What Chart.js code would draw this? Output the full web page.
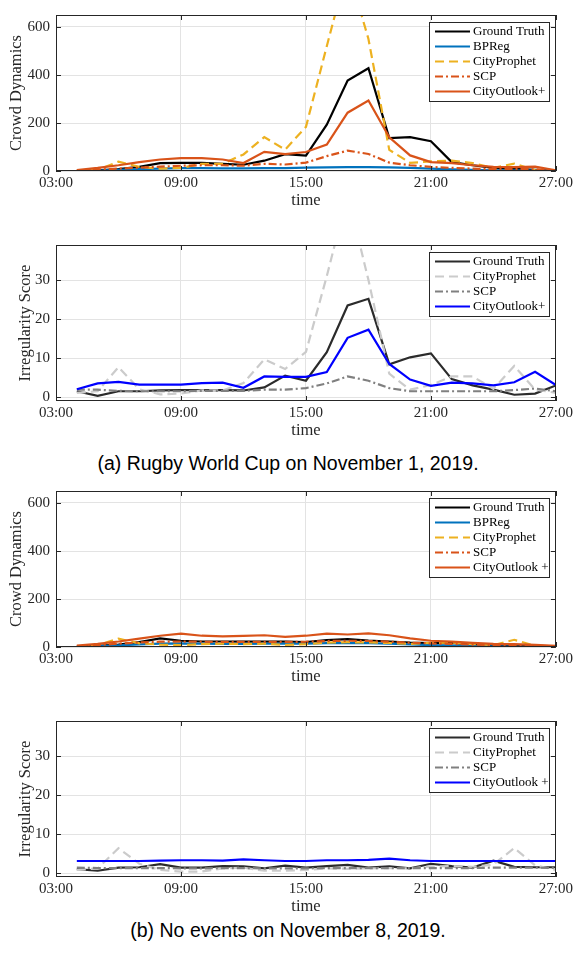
<!DOCTYPE html>
<html>
<head>
<meta charset="utf-8">
<script src="https://cdn.jsdelivr.net/npm/chart.js@4.4.0/dist/chart.umd.min.js"></script>
<style>
	body { margin: 0; background: #fff; width: 576px; height: 953px; position: relative; overflow: hidden; }
	canvas { position: absolute; left: 0; }
	.caption { position: absolute; left: 0; width: 576px; text-align: center; font-family: 'Liberation Sans', Arial, sans-serif; font-size: 19.5px; line-height: 22px; color: #000; }
</style>
</head>
<body>
<canvas id="rugby_crowd" width="576" height="212" style="top:0px"></canvas>
<canvas id="rugby_irregular" width="576" height="212" style="top:230px"></canvas>
<div class="caption" style="top:452px">(a) Rugby World Cup on November 1, 2019.</div>
<canvas id="normal_crowd" width="576" height="212" style="top:476px"></canvas>
<canvas id="normal_irregular" width="576" height="212" style="top:706px"></canvas>
<div class="caption" style="top:919px">(b) No events on November 8, 2019.</div>
<script>
const hours = [4, 5, 6, 7, 8, 9, 10, 11, 12, 13, 14, 15, 16, 17, 18, 19, 20, 21, 22, 23, 24, 25, 26, 27];
const time_ticks = [3, 9, 15, 21, 27];
const time_labels = ['03:00', '09:00', '15:00', '21:00', '27:00'];
const crowd_ticks = [0, 200, 400, 600];
const irregular_ticks = [0, 10, 20, 30];

// (a) rugby world cup, crowd dynamics
const rugby_truth = [1, 3, 8, 17, 33, 34, 34, 30, 26, 43, 70, 64, 193, 377, 428, 137, 141, 124, 37, 24, 13, 9, 5, 1];
const rugby_bpreg = [0, 2, 5, 8, 10, 12, 12, 11, 11, 12, 12, 14, 15, 16, 16, 15, 13, 10, 7, 5, 3, 3, 2, 1];
const rugby_prophet = [0, 5, 39, 17, 10, 13, 30, 30, 69, 141, 89, 184, 520, 850, 550, 88, 34, 40, 43, 33, 13, 31, 3, 0];
const rugby_scp = [2, 6, 10, 14, 18, 22, 24, 24, 22, 30, 27, 35, 62, 85, 71, 35, 24, 17, 13, 10, 8, 9, 7, 3];
const rugby_outlook = [4, 13, 24, 37, 48, 54, 54, 48, 33, 80, 70, 79, 110, 243, 294, 140, 65, 37, 33, 24, 17, 16, 18, 3];

// (a) irregularity score
const rugby_irr_truth = [1.5, 0.3, 1.5, 1.5, 1.7, 1.8, 1.8, 1.8, 1.7, 2.5, 5.5, 4.2, 11.5, 23.5, 25.2, 8.4, 10.2, 11.2, 4.6, 3.0, 1.9, 0.6, 0.9, 3.0];
const rugby_irr_prophet = [1.1, 1.5, 7.7, 2.0, 0.7, 0.9, 1.7, 1.7, 3.6, 9.7, 7.2, 11.6, 31, 52, 30, 6.0, 1.9, 3.1, 5.3, 5.3, 2.1, 8.0, 1.9, 1.1];
const rugby_irr_scp = [1.9, 1.9, 1.6, 1.5, 1.5, 1.5, 1.6, 1.6, 1.6, 1.9, 1.9, 2.3, 3.5, 5.3, 4.2, 2.3, 1.5, 1.5, 1.5, 1.5, 1.5, 1.8, 2.2, 1.5];
const rugby_irr_outlook = [2.0, 3.5, 3.9, 3.2, 3.2, 3.2, 3.6, 3.7, 2.4, 5.3, 5.2, 5.2, 6.4, 15.2, 17.3, 8.5, 4.5, 2.9, 3.7, 3.5, 3.0, 3.8, 6.5, 3.1];

// (b) no events, crowd dynamics
const normal_truth = [2, 5, 10, 20, 36, 26, 23, 23, 22, 22, 23, 20, 29, 33, 27, 23, 18, 16, 17, 10, 6, 5, 3, 2];
const normal_bpreg = [0, 3, 7, 11, 14, 15, 14, 13, 13, 14, 14, 14, 16, 16, 16, 14, 11, 8, 6, 4, 3, 2, 1, 0];
const normal_prophet = [0, 8, 35, 15, 10, 8, 12, 14, 12, 14, 9, 12, 18, 20, 19, 17, 13, 17, 18, 12, 8, 30, 5, 2];
const normal_scp = [3, 8, 14, 19, 22, 23, 22, 21, 21, 21, 21, 22, 25, 26, 25, 22, 18, 15, 13, 10, 8, 7, 5, 3];
const normal_outlook = [6, 13, 23, 35, 47, 56, 47, 44, 46, 49, 42, 47, 56, 52, 57, 49, 36, 26, 22, 17, 13, 12, 9, 5];

// (b) irregularity score
const normal_irr_truth = [1.0, 0.6, 1.4, 1.5, 2.3, 1.4, 1.4, 1.8, 1.7, 1.2, 1.9, 1.4, 1.8, 2.1, 1.4, 1.7, 1.2, 2.4, 1.8, 1.4, 3.2, 1.6, 1.5, 1.5];
const normal_irr_prophet = [0.8, 1.2, 6.4, 2.4, 0.8, 0.4, 0.4, 1.2, 1.4, 0.6, 0.6, 0.8, 1.2, 1.1, 1.2, 1.3, 1.2, 1.7, 1.8, 1.6, 2.2, 6.4, 2.0, 0.8];
const normal_irr_scp = [1.4, 1.3, 1.3, 1.3, 1.3, 1.2, 1.2, 1.3, 1.3, 1.2, 1.2, 1.2, 1.3, 1.3, 1.3, 1.3, 1.3, 1.3, 1.3, 1.3, 1.4, 1.4, 1.4, 1.3];
const normal_irr_outlook = [3.1, 3.1, 3.1, 3.1, 3.2, 3.3, 3.3, 3.2, 3.5, 3.3, 3.1, 3.1, 3.3, 3.3, 3.4, 3.7, 3.3, 3.1, 3.1, 3.1, 3.1, 3.1, 3.1, 3.1];

const SERIF = '"Liberation Serif", "Times New Roman", serif';
const AXIS_COLOR = '#262626';

const DASH = [9, 5];
const DASH_DOT = [8, 3, 2, 3];

function series(label, values, color, dash) {
	return {
		label: label,
		data: values.map((v, i) => ({ x: hours[i], y: v })),
		borderColor: color,
		backgroundColor: color,
		borderWidth: 2.2,
		borderDash: dash || [],
		pointRadius: 0,
		tension: 0,
		clip: 0,
	};
}

// white legend box in the upper right of the plot, like matlab
const box_legend = {
	id: 'box_legend',
	afterDraw(chart) {
		const { ctx, chartArea } = chart;
		const sets = chart.data.datasets;
		const w = 120, row = 15;
		const h = sets.length * row + 4;
		const x0 = Math.round(chartArea.right - 7 - w), y0 = Math.round(chartArea.top + 7);
		ctx.save();
		ctx.fillStyle = '#fff';
		ctx.fillRect(x0, y0, w, h);
		ctx.strokeStyle = AXIS_COLOR;
		ctx.lineWidth = 1;
		ctx.strokeRect(x0 + 0.5, y0 + 0.5, w, h);
		sets.forEach((ds, i) => {
			const y = y0 + 2 + row * i + row / 2;
			ctx.strokeStyle = ds.borderColor;
			ctx.lineWidth = ds.borderWidth;
			ctx.setLineDash(ds.borderDash);
			ctx.beginPath();
			ctx.moveTo(x0 + 6, y);
			ctx.lineTo(x0 + 41, y);
			ctx.stroke();
			ctx.setLineDash([]);
			ctx.fillStyle = '#000';
			ctx.font = '13px ' + SERIF;
			ctx.textBaseline = 'middle';
			ctx.fillText(ds.label, x0 + 44, y + 0.5);
		});
		ctx.restore();
	}
};

// axes box with inward tick marks
const axes_box = {
	id: 'axes_box',
	afterDatasetsDraw(chart) {
		const { ctx, chartArea: a, scales } = chart;
		ctx.save();
		ctx.strokeStyle = AXIS_COLOR;
		ctx.lineWidth = 1;
		ctx.strokeRect(Math.round(a.left) + 0.5, Math.round(a.top) + 0.5, Math.round(a.right - a.left) - 1, Math.round(a.bottom - a.top) - 1);
		ctx.beginPath();
		scales.x.ticks.forEach(t => {
			const x = Math.round(scales.x.getPixelForValue(t.value)) + 0.5;
			ctx.moveTo(x, a.bottom); ctx.lineTo(x, a.bottom - 5);
			ctx.moveTo(x, a.top); ctx.lineTo(x, a.top + 5);
		});
		scales.y.ticks.forEach(t => {
			const y = Math.round(scales.y.getPixelForValue(t.value)) + 0.5;
			ctx.moveTo(a.left, y); ctx.lineTo(a.left + 5, y);
			ctx.moveTo(a.right, y); ctx.lineTo(a.right - 5, y);
		});
		ctx.stroke();
		ctx.restore();
	}
};

function make_chart(id, datasets, y_min, y_max, y_ticks, y_title, title_pad) {
	datasets.forEach((ds, i) => { ds.order = datasets.length - i; });
	return new Chart(document.getElementById(id), {
		type: 'line',
		data: { datasets: datasets },
		options: {
			responsive: false,
			animation: false,
			events: [],
			layout: { padding: { top: 5, right: 20, left: 0, bottom: 0 } },
			plugins: {
				legend: { display: false },
				title: { display: false },
				tooltip: { enabled: false },
			},
			scales: {
				x: {
					type: 'linear',
					min: 3,
					max: 27,
					afterBuildTicks: s => { s.ticks = time_ticks.map(v => ({ value: v })); },
					afterFit: s => { s.height = 41; },
					ticks: {
						padding: 3,
						maxRotation: 0,
						color: AXIS_COLOR,
						font: { family: SERIF, size: 15 },
						callback: v => time_labels[time_ticks.indexOf(v)],
					},
					grid: { color: '#e3e3e3', drawTicks: false },
					border: { display: false },
					title: {
						display: true,
						text: 'time',
						color: AXIS_COLOR,
						font: { family: SERIF, size: 16.5 },
						padding: { top: 0, bottom: 1 },
					},
				},
				y: {
					min: y_min,
					max: y_max,
					afterBuildTicks: s => { s.ticks = y_ticks.map(v => ({ value: v })); },
					afterFit: s => { s.width = 56; },
					ticks: {
						padding: 6,
						color: AXIS_COLOR,
						font: { family: SERIF, size: 15 },
					},
					grid: { color: '#e3e3e3', drawTicks: false },
					border: { display: false },
					title: {
						display: true,
						text: y_title,
						color: AXIS_COLOR,
						font: { family: SERIF, size: 16.5 },
						padding: { top: title_pad, bottom: 0 },
					},
				},
			},
		},
		plugins: [axes_box, box_legend],
	});
}

const rugby_crowd = make_chart('rugby_crowd', [
	series('Ground Truth', rugby_truth, '#000000'),
	series('BPReg', rugby_bpreg, '#0072BD'),
	series('CityProphet', rugby_prophet, '#EDB120', DASH),
	series('SCP', rugby_scp, '#D95319', DASH_DOT),
	series('CityOutlook+', rugby_outlook, '#D95319'),
], 0, 650, crowd_ticks, 'Crowd Dynamics', 7);

const rugby_irregular = make_chart('rugby_irregular', [
	series('Ground Truth', rugby_irr_truth, '#2b2b2b'),
	series('CityProphet', rugby_irr_prophet, '#cbcbcb', DASH),
	series('SCP', rugby_irr_scp, '#808080', DASH_DOT),
	series('CityOutlook+', rugby_irr_outlook, '#0000ff'),
], -1, 39, irregular_ticks, 'Irregularity Score', 16);

const normal_crowd = make_chart('normal_crowd', [
	series('Ground Truth', normal_truth, '#000000'),
	series('BPReg', normal_bpreg, '#0072BD'),
	series('CityProphet', normal_prophet, '#EDB120', DASH),
	series('SCP', normal_scp, '#D95319', DASH_DOT),
	series('CityOutlook +', normal_outlook, '#D95319'),
], 0, 650, crowd_ticks, 'Crowd Dynamics', 7);

const normal_irregular = make_chart('normal_irregular', [
	series('Ground Truth', normal_irr_truth, '#2b2b2b'),
	series('CityProphet', normal_irr_prophet, '#cbcbcb', DASH),
	series('SCP', normal_irr_scp, '#808080', DASH_DOT),
	series('CityOutlook +', normal_irr_outlook, '#0000ff'),
], -1, 39, irregular_ticks, 'Irregularity Score', 16);
</script>
</body>
</html>
